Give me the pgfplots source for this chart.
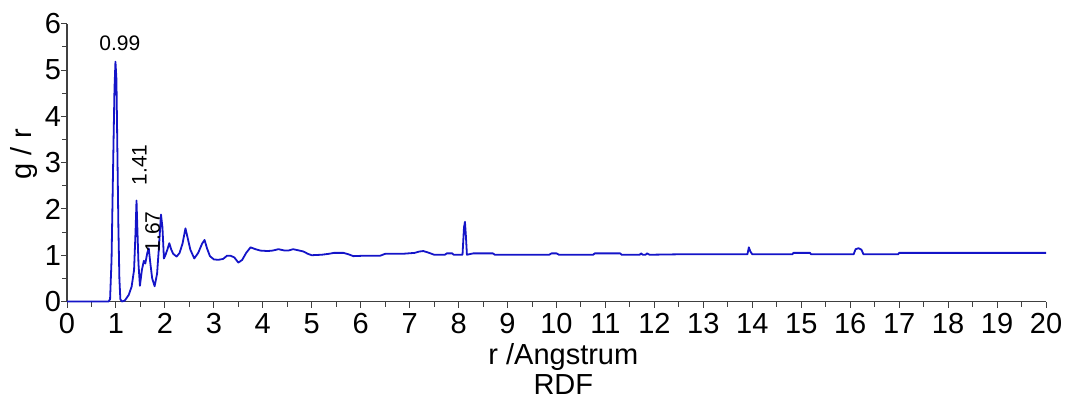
\documentclass[border=0pt]{standalone}
\usepackage{fontspec}
\setmainfont{Liberation Sans}
\usepackage{pgfplots}
\pgfplotsset{compat=1.18}
\usepackage{pgfplotstable}
\definecolor{RdfBlue}{HTML}{1414C8}
\definecolor{AxGray}{HTML}{404040}

\pgfplotstableread{
r g
0 0
0.85 0
0.88 0.05
0.91 0.9
0.94 2.8
0.97 4.6
0.99 5.18
1.01 4.8
1.03 3.2
1.05 1.6
1.07 0.5
1.09 0.05
1.12 0
1.18 0.02
1.26 0.14
1.32 0.32
1.37 0.68
1.40 1.5
1.42 2.18
1.44 1.5
1.46 0.82
1.49 0.34
1.53 0.68
1.57 0.88
1.60 0.82
1.64 1.05
1.67 1.15
1.70 0.85
1.74 0.5
1.79 0.33
1.84 0.6
1.88 1.2
1.92 1.88
1.95 1.6
1.98 0.93
2.01 1.0
2.05 1.12
2.09 1.26
2.13 1.12
2.17 1.03
2.24 0.97
2.30 1.05
2.36 1.25
2.42 1.58
2.47 1.35
2.52 1.12
2.60 0.93
2.68 1.05
2.76 1.25
2.81 1.33
2.86 1.15
2.92 0.98
3.00 0.91
3.09 0.90
3.19 0.92
3.27 0.99
3.34 0.99
3.42 0.95
3.50 0.84
3.58 0.90
3.66 1.05
3.75 1.17
3.85 1.13
3.95 1.10
4.10 1.09
4.20 1.10
4.32 1.13
4.45 1.10
4.52 1.10
4.62 1.13
4.75 1.10
4.83 1.08
4.92 1.03
5.00 1.0
5.20 1.01
5.35 1.03
5.45 1.05
5.65 1.05
5.75 1.02
5.85 0.98
6.10 0.99
6.40 0.99
6.50 1.03
6.85 1.03
7.10 1.05
7.20 1.08
7.28 1.09
7.40 1.05
7.50 1.01
7.72 1.01
7.76 1.04
7.87 1.04
7.90 1.01
8.08 1.01
8.11 1.6
8.13 1.72
8.15 1.4
8.17 1.01
8.30 1.04
8.70 1.04
8.74 1.01
9.85 1.01
9.90 1.04
10.0 1.04
10.05 1.01
10.75 1.01
10.78 1.04
11.30 1.04
11.33 1.01
11.70 1.01
11.73 1.04
11.76 1.01
11.82 1.01
11.85 1.04
11.90 1.01
12.52 1.02
13.90 1.02
13.93 1.17
13.96 1.08
14.0 1.02
14.82 1.02
14.84 1.05
15.18 1.05
15.20 1.02
16.07 1.02
16.11 1.13
16.17 1.15
16.23 1.12
16.27 1.02
16.98 1.02
17.0 1.05
20.0 1.05
}\rdf

\begin{document}
\begin{tikzpicture}
% frame of the whole picture: 1066x404 px at 0.5pt per px, axis origin at (67,301.5)
\path[use as bounding box] (-33.5pt,-51.25pt) rectangle (499.5pt,150.75pt);
\begin{axis}[
  at={(0,0)},anchor=south west,
  scale only axis,width=489.5pt,height=138.9pt,
  xmin=0,xmax=20,ymin=0,ymax=6,
  axis x line*=bottom,axis y line*=left,
  axis line style={AxGray,line width=0.6pt},
  xtick={0,1,...,20},ytick={0,1,...,6},
  minor x tick num=1,minor y tick num=1,
  tick align=outside,
  major tick length=3pt,minor tick length=2.5pt,
  tick style={AxGray,line width=0.5pt},
  /pgf/number format/assume math mode=true,
  tick label style={font=\fontsize{14.5}{15}\selectfont},
  xticklabel style={yshift=0.5pt},
  yticklabel style={xshift=3.5pt},
  xlabel={r /Angstrum},
  ylabel={g / r},
  every axis x label/.style={at={(axis description cs:0.507,0)},anchor=center,yshift=-27.75pt,font=\fontsize{14.5}{15}\selectfont},
  every axis y label/.style={at={(axis description cs:-0.044,0.53)},anchor=center,rotate=90,font=\fontsize{14.5}{15}\selectfont},
  clip=false,
]
\addplot[RdfBlue,line width=0.9pt,line join=round] table[x=r,y=g] {\rdf};
\node[font=\fontsize{10.5}{11}\selectfont] at (axis cs:1.08,5.58) {0.99};
\node[font=\fontsize{10.5}{11}\selectfont,rotate=90] at (axis cs:1.48,2.95) {1.41};
\node[font=\fontsize{10.5}{11}\selectfont,rotate=90] at (axis cs:1.75,1.5) {1.67};
\node[font=\fontsize{14.5}{15}\selectfont] at (rel axis cs:0.507,0) [yshift=-41.75pt] {RDF};
\end{axis}
\end{tikzpicture}
\end{document}
